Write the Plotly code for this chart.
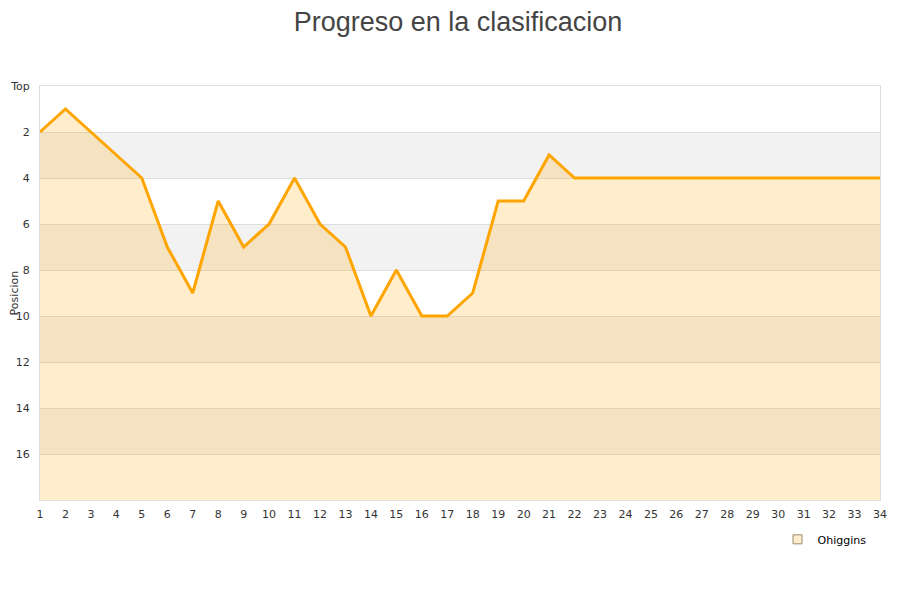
import plotly.graph_objects as go

jornadas = list(range(1, 35))
posiciones = [2, 1, 2, 3, 4, 7, 9, 5, 7, 6, 4, 6, 7, 10, 8, 10, 10, 9, 5, 5, 3, 4,
              4, 4, 4, 4, 4, 4, 4, 4, 4, 4, 4, 4]
y_ticks = [0, 2, 4, 6, 8, 10, 12, 14, 16]
y_ticktext = ["Top", "2", "4", "6", "8", "10", "12", "14", "16"]
equipo = "Ohiggins"
max_pos = 18

fig = go.Figure()

# baseline for the filled area
fig.add_trace(go.Scatter(x=jornadas, y=[max_pos] * len(jornadas), mode="lines",
                         line=dict(width=0, color="rgba(0,0,0,0)"),
                         showlegend=False, hoverinfo="skip"))
fig.add_trace(go.Scatter(x=jornadas, y=posiciones, mode="lines", fill="tonexty",
                         fillcolor="rgba(255,165,0,0.2)",
                         line=dict(color="#FFA500", width=3),
                         name=equipo, showlegend=False))
# legend entry
fig.add_trace(go.Scatter(x=[None], y=[None], mode="markers", name=equipo,
                         marker=dict(symbol="square", size=9, color="#FFEDCC",
                                     line=dict(color="#9a8a70", width=1))))

shapes = []
for lo in range(2, max_pos, 4):
    shapes.append(dict(type="rect", xref="paper", yref="y", x0=0, x1=1, y0=lo, y1=lo + 2,
                       fillcolor="#f2f2f2", line=dict(width=0), layer="below"))
fig.update_layout(shapes=shapes)

fig.add_annotation(text="Posicion", xref="paper", yref="paper", x=-0.0305, y=0.5,
                   xanchor="center", yanchor="middle", textangle=-90, showarrow=False,
                   font=dict(size=11, color="#333333"))

fig.update_layout(
    width=900, height=600,
    margin=dict(l=32, r=28, t=78, b=108),
    paper_bgcolor="white", plot_bgcolor="white",
    title=dict(text="Progreso en la clasificacion", x=0.5, xanchor="center", y=0.977,
               yanchor="middle",
               font=dict(family="Liberation Sans, Arial", size=27, color="#444444")),
    font=dict(family="DejaVu Sans", size=11, color="#333333"),
    xaxis=dict(range=[1, 34], tickmode="array", tickvals=jornadas, showgrid=False,
               zeroline=False, showline=True, linecolor="#dddddd", mirror=True,
               ticks="", automargin=False, ticklabelstandoff=4,
               tickfont=dict(size=11, color="#333333")),
    yaxis=dict(range=[max_pos, 0], tickmode="array", tickvals=y_ticks, ticktext=y_ticktext,
               showgrid=True, gridcolor="#dddddd", zeroline=False, showline=True,
               linecolor="#dddddd", mirror=True, ticks="", automargin=False,
               ticklabelstandoff=7,
               tickfont=dict(size=11, color="#333333")),
    legend=dict(x=0.878, y=-0.060, xanchor="left", yanchor="top",
                font=dict(size=11, color="#000000"), bgcolor="rgba(0,0,0,0)"),
    showlegend=True,
)

fig.write_html("out.html")
